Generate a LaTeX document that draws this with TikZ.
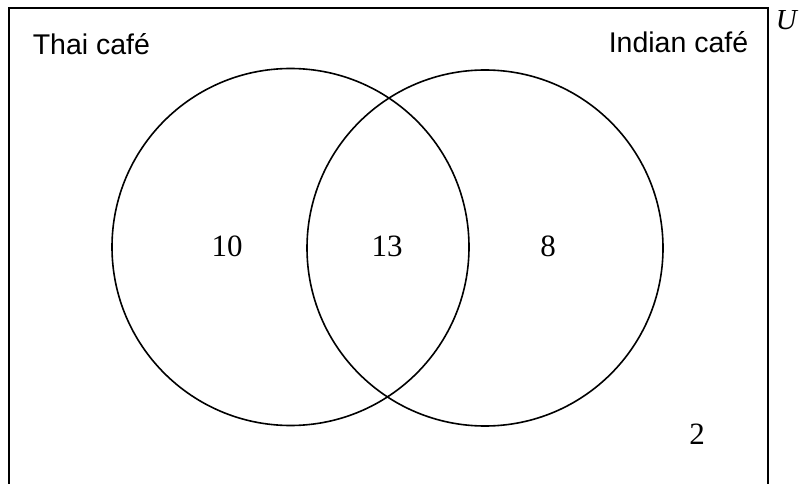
\documentclass[tikz,border=0pt]{standalone}
\usepackage{fontspec}
\setmainfont{Liberation Serif}
\setsansfont{Liberation Sans}
\usetikzlibrary{positioning}

\tikzset{
	cafe/.style = {inner sep=0pt, font=\sffamily\fontsize{28.5}{30}\selectfont},
	count/.style = {inner sep=0pt, font=\fontsize{31}{33}\selectfont},
}

\begin{document}
\begin{tikzpicture}[x=1pt, y=-1pt, line width=1.6pt]
			\useasboundingbox (0,0) rectangle (803,484);
			
			\draw (9,495) -- (9,8) -- (768,8) -- (768,495);
			\node [inner sep=0pt, font=\fontsize{29}{31}\selectfont] (univ) at (787,20) {\textit{U}};
			
			\coordinate (thaic) at (290.5,247);
			\coordinate (indc) at (485,248);
			\draw (thaic) circle (178.5);
			\draw (indc) circle (178);
			
			\node [cafe, anchor=base west] (thai) at (32,55) {Thai café};
			\node [cafe, anchor=base east] (indian) at (749,53) {Indian café};
			
			\node [count] (onlythai) at (227,246) {10};
			\node [count] (both) at (387,246) {13};
			\node [count] (onlyind) at (548,246) {8};
			\node [count] (neither) at (697,434) {2};
		\end{tikzpicture}
\end{document}
